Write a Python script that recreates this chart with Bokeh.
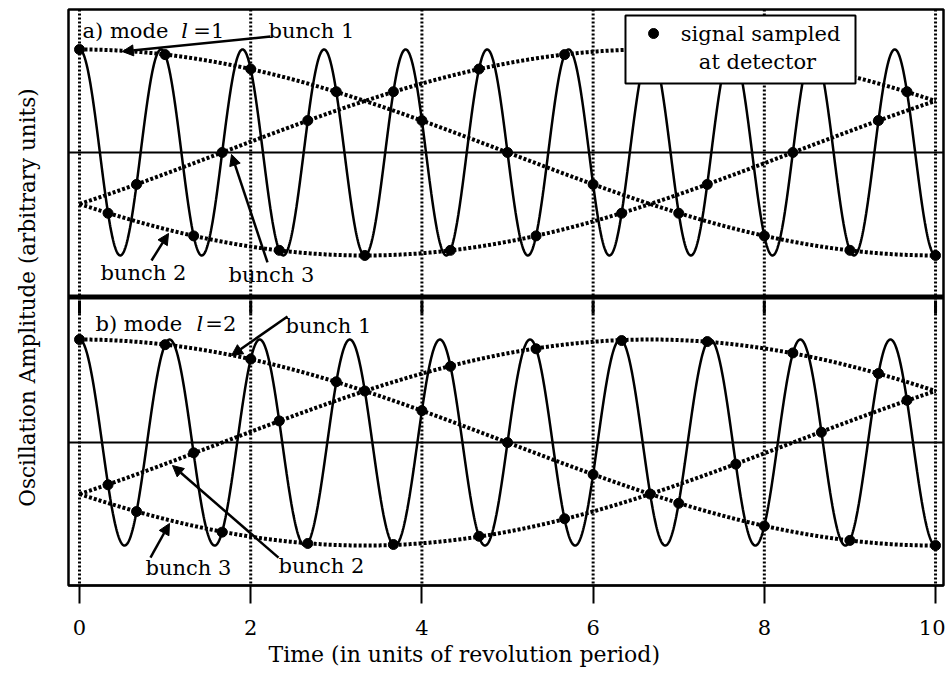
import numpy as np
from bokeh.plotting import figure
from bokeh.models import (Range1d, LinearAxis, FixedTicker, Span, Arrow, NormalHead,
                          BoxAnnotation, Label, Title)
from bokeh.embed import file_html
from bokeh.resources import INLINE

# ---------------- values ----------------
x_ticks = [0, 2, 4, 6, 8, 10]
t_end = 10
tune_frac = 0.05                 # slow oscillation frequency (per revolution)
n_bunches = 3
signal_freq_a = 1.05             # fast detector signal, mode l=1
signal_freq_b = 0.95             # fast detector signal, mode l=2
bunch_phase_a = [0, 120, 240]    # degrees, bunch 1, 2, 3 (mode 1)
bunch_phase_b = [0, 240, 120]    # degrees, bunch 1, 2, 3 (mode 2)

revs_b1 = list(range(0, 11))     # revolutions at which bunch 1 is sampled
revs_b23 = list(range(0, 10))    # revolutions at which bunch 2 and 3 are sampled

# sampled amplitudes (dots) in panel a
a_b1 = [1.00, 0.95, 0.81, 0.59, 0.31, 0.00, -0.31, -0.59, -0.81, -0.95, -1.00]
a_b2 = [-0.59, -0.81, -0.95, -1.00, -0.95, -0.81, -0.59, -0.31, 0.00, 0.31]
a_b3 = [-0.31, 0.00, 0.31, 0.59, 0.81, 0.95, 1.00, 0.95, 0.81, 0.59]
# sampled amplitudes (dots) in panel b
b_b1 = [1.00, 0.95, 0.81, 0.59, 0.31, 0.00, -0.31, -0.59, -0.81, -0.95, -1.00]
b_b2 = [-0.41, -0.10, 0.21, 0.50, 0.74, 0.91, 0.99, 0.98, 0.87, 0.67]
b_b3 = [-0.67, -0.87, -0.98, -0.99, -0.91, -0.74, -0.50, -0.21, 0.10, 0.41]

FONT = "DejaVu Serif"
FS = "21px"

p = figure(width=945, height=673,
           x_range=Range1d(-0.1285, 10.093), y_range=Range1d(-4.204, 1.388),
           min_border_left=68, min_border_right=2, min_border_top=9, min_border_bottom=88,
           toolbar_location=None, output_backend="svg", y_axis_location=None)
p.extra_y_ranges = {"b": Range1d(-1.388, 4.204)}
p.grid.visible = False
p.outline_line_color = "black"
p.outline_line_width = 2.5
p.background_fill_color = "white"
p.border_fill_color = "white"

# x axis
xa = p.xaxis[0]
xa.ticker = FixedTicker(ticks=x_ticks)
xa.minor_tick_line_color = None
xa.major_tick_out = 18
xa.major_tick_in = 0
xa.major_tick_line_width = 2
xa.axis_line_width = 2
xa.major_label_standoff = 16
xa.major_label_text_font = FONT
xa.major_label_text_font_size = FS
xa.major_label_text_color = "black"

# x axis title (placed as a below-title so it can sit left of centre as in the original)
p.add_layout(Title(text="Time (in units of revolution period)", align="left", offset=200,
                   standoff=4, text_font=FONT, text_font_size="22px",
                   text_font_style="normal", text_color="black"), "below")

# y axis (label only)
ya = LinearAxis(ticker=FixedTicker(ticks=[]), axis_line_color=None,
                major_tick_line_color=None, minor_tick_line_color=None,
                axis_label="Oscillation Amplitude (arbitrary units)",
                axis_label_text_font=FONT, axis_label_text_font_size="21.5px",
                axis_label_text_font_style="normal", axis_label_text_color="black",
                axis_label_standoff=29)
p.add_layout(ya, "left")

# vertical dotted guides and centre lines
for xt in x_ticks:
    p.add_layout(Span(location=xt, dimension="height", line_color="black",
                      line_width=3, line_dash="2 2", level="underlay"))
p.add_layout(Span(location=0, dimension="width", line_color="black", line_width=2,
                  level="underlay"))
p.add_layout(Span(location=0, dimension="width", line_color="black", line_width=2,
                  level="underlay", y_range_name="b"))

# short solid ticks at the top of panel b
p.segment(x0=x_ticks, x1=x_ticks, y0=[1.38] * len(x_ticks), y1=[1.25] * len(x_ticks),
          line_color="black", line_width=3, y_range_name="b")

t = np.linspace(0, t_end, 2001)
panels = [
    ("default", signal_freq_a, bunch_phase_a, [a_b1, a_b2, a_b3]),
    ("b", signal_freq_b, bunch_phase_b, [b_b1, b_b2, b_b3]),
]
for rng, freq, phases, samples in panels:
    p.line(t, np.cos(2 * np.pi * freq * t), line_color="black", line_width=2.5,
           y_range_name=rng)
    for ph in phases:
        p.line(t, np.cos(2 * np.pi * tune_frac * t + np.deg2rad(ph)), line_color="black",
               line_width=4, line_dash="3 2", y_range_name=rng)
    for j, vals in enumerate(samples):
        revs = revs_b1 if j == 0 else revs_b23
        ts = [n + j / n_bunches for n in revs]
        p.scatter(ts, vals, size=10, color="black", y_range_name=rng)

# separator between the two panels
p.add_layout(Span(location=-1.403, dimension="width", line_color="black", line_width=5))


def txt(x, y, s, rng="default", style="normal", align="left", size=FS):
    p.add_layout(Label(x=x, y=y, text=s, y_range_name=rng, text_font=FONT,
                       text_font_size=size, text_font_style=style, text_align=align,
                       text_baseline="middle", text_color="black"))


def arrow(x0, y0, x1, y1, rng="default"):
    p.add_layout(Arrow(x_start=x0, y_start=y0, x_end=x1, y_end=y1, y_range_name=rng,
                       line_width=2.5, line_color="black",
                       end=NormalHead(size=11, fill_color="black", line_color="black")))


# panel a annotations
txt(0.035, 1.184, "a) mode")
txt(1.19, 1.184, "l", style="italic")
txt(1.33, 1.184, "=1")
txt(2.208, 1.184, "bunch 1")
arrow(2.231, 1.126, 0.50, 0.98)
txt(0.245, -1.17, "bunch 2")
arrow(0.841, -1.049, 1.04, -0.786)
txt(1.74, -1.19, "bunch 3")
arrow(2.196, -1.068, 1.776, -0.019)

# panel b annotations
txt(0.187, 1.155, "b) mode", rng="b")
txt(1.367, 1.155, "l", rng="b", style="italic")
txt(1.47, 1.155, "=2", rng="b")
txt(2.406, 1.136, "bunch 1", rng="b")
arrow(2.43, 1.223, 1.776, 0.845, rng="b")
txt(0.771, -1.217, "bunch 3", rng="b")
arrow(0.829, -1.117, 1.051, -0.786, rng="b")
txt(2.325, -1.198, "bunch 2", rng="b")
arrow(2.325, -1.117, 1.086, -0.223, rng="b")

# legend box
p.add_layout(BoxAnnotation(left=6.378, right=9.065, top=1.330, bottom=0.670,
                           fill_color="white", fill_alpha=1.0, line_color="black",
                           line_width=2, line_alpha=1.0))
p.scatter([6.706], [1.155], size=10, color="black", level="overlay")
txt(7.956, 1.155, "signal sampled", align="center")
txt(7.92, 0.874, "at detector", align="center")

open("out.html", "w").write(file_html(p, INLINE))
